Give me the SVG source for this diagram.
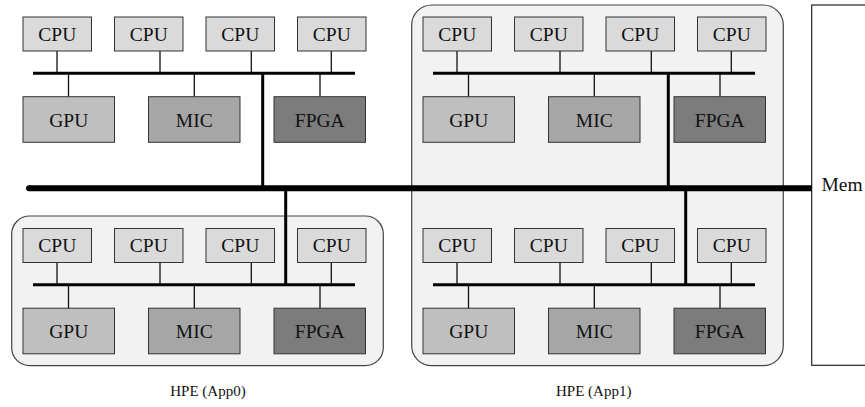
<svg xmlns="http://www.w3.org/2000/svg" width="865" height="407" viewBox="0 0 865 407" font-family="'Liberation Serif', serif">
<style>
text{font-family:'Liberation Serif',serif;fill:#111}
.lbl{font-size:19.5px;text-anchor:middle}
.cap{font-size:15px;text-anchor:middle}
.cpu{fill:#dadada;stroke:#333;stroke-width:1}
.gpu{fill:#bfbfbf;stroke:#333;stroke-width:1}
.mic{fill:#a6a6a6;stroke:#333;stroke-width:1}
.fpga{fill:#7c7c7c;stroke:#333;stroke-width:1}
.hpe{fill:#f2f2f2;stroke:#444;stroke-width:1.2}
.stub{stroke:#111;stroke-width:1.3;fill:none}
.bus{stroke:#000;stroke-width:3;fill:none}
.main{stroke:#000;stroke-width:6;fill:none}
</style>
<g id="hpe-app1"><rect class="hpe" x="411.7" y="5" width="371.6" height="360.7" rx="20"/><text class="cap" x="593.7" y="396">HPE (App1)</text></g>
<g id="hpe-app0"><rect class="hpe" x="11.7" y="216" width="371.6" height="149.7" rx="18"/><text class="cap" x="208" y="396">HPE (App0)</text></g>
<g id="mem"><rect x="811.7" y="5" width="70" height="360.3" fill="#fff" stroke="#222" stroke-width="1.2"/><text x="821.5" y="191" style="font-size:19.5px">Mem</text></g>

<g id="connectors">
<line class="main" x1="29" y1="188.3" x2="811.7" y2="188.3" stroke-linecap="butt"/>
<circle cx="29" cy="188.3" r="3" fill="#000"/>
<line class="bus" x1="262.7" y1="73.3" x2="262.7" y2="188.3"/>
<line class="bus" x1="668.3" y1="73.3" x2="668.3" y2="188.3"/>
<line class="bus" x1="285.7" y1="188.3" x2="285.7" y2="284.8"/>
<line class="bus" x1="685.7" y1="188.3" x2="685.7" y2="284.8"/>
<g id="bus-tl"><line class="bus" x1="33" y1="73.3" x2="355" y2="73.3"/>
<path class="stub" d="M57,51V73.3M160,51V73.3M251.3,51V73.3M331.3,51V73.3M68.5,73.3V96.7M194.3,73.3V96.7M320,73.3V96.7"/></g>
<g id="bus-tr"><line class="bus" x1="433" y1="73.3" x2="755" y2="73.3"/>
<path class="stub" d="M457,51V73.3M560,51V73.3M651.3,51V73.3M731.3,51V73.3M468.5,73.3V96.7M594.3,73.3V96.7M720,73.3V96.7"/></g>
<g id="bus-bl"><line class="bus" x1="33" y1="284.8" x2="355" y2="284.8"/>
<path class="stub" d="M57,262.5V284.8M160,262.5V284.8M251.3,262.5V284.8M331.3,262.5V284.8M68.5,284.8V308.2M194.3,284.8V308.2M320,284.8V308.2"/></g>
<g id="bus-br"><line class="bus" x1="433" y1="284.8" x2="755" y2="284.8"/>
<path class="stub" d="M457,262.5V284.8M560,262.5V284.8M651.3,262.5V284.8M731.3,262.5V284.8M468.5,284.8V308.2M594.3,284.8V308.2M720,284.8V308.2"/></g>
</g>

<!-- top-left -->
<g id="tl-cpu1"><rect class="cpu" x="23" y="17" width="68.5" height="34"/><text class="lbl" x="57.25" y="40.8">CPU</text></g>
<g id="tl-cpu2"><rect class="cpu" x="114.5" y="17" width="68.5" height="34"/><text class="lbl" x="148.75" y="40.8">CPU</text></g>
<g id="tl-cpu3"><rect class="cpu" x="206" y="17" width="68.5" height="34"/><text class="lbl" x="240.25" y="40.8">CPU</text></g>
<g id="tl-cpu4"><rect class="cpu" x="297.5" y="17" width="68.5" height="34"/><text class="lbl" x="331.75" y="40.8">CPU</text></g>
<g id="tl-gpu"><rect class="gpu" x="23" y="96.7" width="91.5" height="45.6"/><text class="lbl" x="68.75" y="126.7">GPU</text></g>
<g id="tl-mic"><rect class="mic" x="148.5" y="96.7" width="91.5" height="45.6"/><text class="lbl" x="194.25" y="126.7">MIC</text></g>
<g id="tl-fpga"><rect class="fpga" x="274" y="96.7" width="91.5" height="45.6"/><text class="lbl" x="319.75" y="126.7">FPGA</text></g>

<!-- top-right -->
<g id="tr-cpu1"><rect class="cpu" x="423" y="17" width="68.5" height="34"/><text class="lbl" x="457.25" y="40.8">CPU</text></g>
<g id="tr-cpu2"><rect class="cpu" x="514.5" y="17" width="68.5" height="34"/><text class="lbl" x="548.75" y="40.8">CPU</text></g>
<g id="tr-cpu3"><rect class="cpu" x="606" y="17" width="68.5" height="34"/><text class="lbl" x="640.25" y="40.8">CPU</text></g>
<g id="tr-cpu4"><rect class="cpu" x="697.5" y="17" width="68.5" height="34"/><text class="lbl" x="731.75" y="40.8">CPU</text></g>
<g id="tr-gpu"><rect class="gpu" x="423" y="96.7" width="91.5" height="45.6"/><text class="lbl" x="468.75" y="126.7">GPU</text></g>
<g id="tr-mic"><rect class="mic" x="548.5" y="96.7" width="91.5" height="45.6"/><text class="lbl" x="594.25" y="126.7">MIC</text></g>
<g id="tr-fpga"><rect class="fpga" x="674" y="96.7" width="91.5" height="45.6"/><text class="lbl" x="719.75" y="126.7">FPGA</text></g>

<!-- bottom-left -->
<g id="bl-cpu1"><rect class="cpu" x="23" y="228.5" width="68.5" height="34"/><text class="lbl" x="57.25" y="252.3">CPU</text></g>
<g id="bl-cpu2"><rect class="cpu" x="114.5" y="228.5" width="68.5" height="34"/><text class="lbl" x="148.75" y="252.3">CPU</text></g>
<g id="bl-cpu3"><rect class="cpu" x="206" y="228.5" width="68.5" height="34"/><text class="lbl" x="240.25" y="252.3">CPU</text></g>
<g id="bl-cpu4"><rect class="cpu" x="297.5" y="228.5" width="68.5" height="34"/><text class="lbl" x="331.75" y="252.3">CPU</text></g>
<g id="bl-gpu"><rect class="gpu" x="23" y="308.2" width="91.5" height="45.6"/><text class="lbl" x="68.75" y="338.2">GPU</text></g>
<g id="bl-mic"><rect class="mic" x="148.5" y="308.2" width="91.5" height="45.6"/><text class="lbl" x="194.25" y="338.2">MIC</text></g>
<g id="bl-fpga"><rect class="fpga" x="274" y="308.2" width="91.5" height="45.6"/><text class="lbl" x="319.75" y="338.2">FPGA</text></g>

<!-- bottom-right -->
<g id="br-cpu1"><rect class="cpu" x="423" y="228.5" width="68.5" height="34"/><text class="lbl" x="457.25" y="252.3">CPU</text></g>
<g id="br-cpu2"><rect class="cpu" x="514.5" y="228.5" width="68.5" height="34"/><text class="lbl" x="548.75" y="252.3">CPU</text></g>
<g id="br-cpu3"><rect class="cpu" x="606" y="228.5" width="68.5" height="34"/><text class="lbl" x="640.25" y="252.3">CPU</text></g>
<g id="br-cpu4"><rect class="cpu" x="697.5" y="228.5" width="68.5" height="34"/><text class="lbl" x="731.75" y="252.3">CPU</text></g>
<g id="br-gpu"><rect class="gpu" x="423" y="308.2" width="91.5" height="45.6"/><text class="lbl" x="468.75" y="338.2">GPU</text></g>
<g id="br-mic"><rect class="mic" x="548.5" y="308.2" width="91.5" height="45.6"/><text class="lbl" x="594.25" y="338.2">MIC</text></g>
<g id="br-fpga"><rect class="fpga" x="674" y="308.2" width="91.5" height="45.6"/><text class="lbl" x="719.75" y="338.2">FPGA</text></g>
</svg>
